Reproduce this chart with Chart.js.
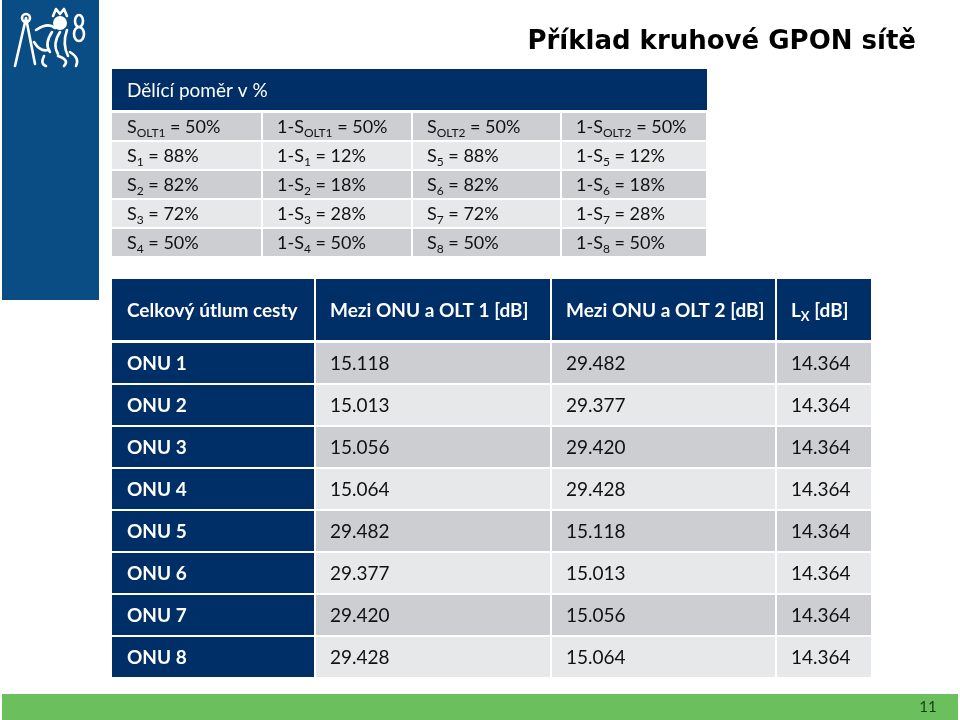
<!DOCTYPE html>
<html>
<head>
<meta charset="utf-8">
<script src="https://cdn.jsdelivr.net/npm/chart.js@4/dist/chart.umd.min.js"></script>
<style>
  html, body { margin: 0; padding: 0; background: #fff; }
  #slide { display: block; }
</style>
</head>
<body>
<canvas id="slide" width="960" height="720"></canvas>
<script>
// --- Data ---
const slideTitle = 'Příklad kruhové GPON sítě';
const splitTitle = 'Dělící poměr v %';
const splitIdxA = ['OLT1', '1', '2', '3', '4'];
const splitValA = [50, 88, 82, 72, 50];
const splitCompA = [50, 12, 18, 28, 50];
const splitIdxB = ['OLT2', '5', '6', '7', '8'];
const splitValB = [50, 88, 82, 72, 50];
const splitCompB = [50, 12, 18, 28, 50];

const lossHeaders = ['Celkový útlum cesty', 'Mezi ONU a OLT 1 [dB]', 'Mezi ONU a OLT 2 [dB]', 'L_{X} [dB]'];
const onuLabels = ['ONU 1', 'ONU 2', 'ONU 3', 'ONU 4', 'ONU 5', 'ONU 6', 'ONU 7', 'ONU 8'];
const lossOlt1 = [15.118, 15.013, 15.056, 15.064, 29.482, 29.377, 29.420, 29.428];
const lossOlt2 = [29.482, 29.377, 29.420, 29.428, 15.118, 15.013, 15.056, 15.064];
const lossLx = [14.364, 14.364, 14.364, 14.364, 14.364, 14.364, 14.364, 14.364];
const pageNo = '11';

// --- Layout / style ---
const NAVY = '#002e66';
const ROW_DARK = '#cdced2';
const ROW_LIGHT = '#e7e8ea';
const FONT = 'Lato, "Open Sans", sans-serif';

const splitCols = [112, 262, 412, 561, 707];
const splitHead = { top: 69, bottom: 110 };
const splitRow = { top: 113, pitch: 29, h: 27 };

const lossCols = [112, 315, 551, 776, 872];
const lossHead = { top: 279, bottom: 340 };
const lossRow = { top: 343, pitch: 42, h: 40 };

// --- Helpers ---
// draws "S_{OLT1} = 50%" style strings with subscripts
function drawRich(ctx, str, x, y, size, bold, color) {
  const parts = str.split(/(_\{[^}]*\})/).filter(p => p.length);
  ctx.fillStyle = color;
  ctx.textAlign = 'left';
  ctx.textBaseline = 'alphabetic';
  let cx = x;
  parts.forEach(p => {
    if (p.startsWith('_{')) {
      const t = p.slice(2, -1);
      ctx.font = `${bold ? 'bold ' : ''}${Math.round(size * 0.68)}px ${FONT}`;
      ctx.fillText(t, cx, y + size * 0.24);
      cx += ctx.measureText(t).width;
    } else {
      ctx.font = `${bold ? 'bold ' : ''}${size}px ${FONT}`;
      ctx.fillText(p, cx, y);
      cx += ctx.measureText(p).width;
    }
  });
}

function drawLogo(ctx, X, Y) {
  ctx.fillStyle = '#0a4c84';
  ctx.fillRect(X(2), Y(0), X(99) - X(2), Y(300) - Y(0));
  ctx.strokeStyle = '#ffffff';
  ctx.fillStyle = '#ffffff';
  ctx.lineWidth = 2.6;
  ctx.lineCap = 'round';
  ctx.lineJoin = 'round';
  // compass
  ctx.beginPath();
  ctx.moveTo(X(26), Y(18)); ctx.lineTo(X(15), Y(66));
  ctx.moveTo(X(26), Y(18)); ctx.lineTo(X(35), Y(64));
  ctx.stroke();
  ctx.beginPath(); ctx.arc(X(26), Y(18), 4, 0, Math.PI * 2); ctx.stroke();
  // lion head and crown
  ctx.beginPath();
  ctx.arc(X(60), Y(23), 7, 0, Math.PI * 2); ctx.fill();
  ctx.beginPath();
  ctx.moveTo(X(53), Y(16)); ctx.lineTo(X(56), Y(9)); ctx.lineTo(X(60), Y(14)); ctx.lineTo(X(64), Y(9)); ctx.lineTo(X(67), Y(16));
  ctx.stroke();
  // body and mane
  ctx.beginPath();
  ctx.moveTo(X(36), Y(30)); ctx.quadraticCurveTo(X(48), Y(22), X(55), Y(28));
  ctx.moveTo(X(52), Y(32)); ctx.quadraticCurveTo(X(44), Y(44), X(50), Y(52));
  ctx.moveTo(X(60), Y(32)); ctx.quadraticCurveTo(X(52), Y(44), X(58), Y(54));
  ctx.moveTo(X(67), Y(30)); ctx.quadraticCurveTo(X(62), Y(44), X(68), Y(56));
  ctx.moveTo(X(34), Y(42)); ctx.quadraticCurveTo(X(40), Y(52), X(48), Y(50));
  ctx.moveTo(X(44), Y(56)); ctx.quadraticCurveTo(X(40), Y(64), X(46), Y(66));
  ctx.moveTo(X(58), Y(56)); ctx.quadraticCurveTo(X(70), Y(60), X(64), Y(66));
  ctx.moveTo(X(70), Y(52)); ctx.quadraticCurveTo(X(80), Y(58), X(76), Y(66));
  ctx.stroke();
  // tail "8"
  ctx.beginPath(); ctx.ellipse(X(79), Y(21), 4, 6, 0, 0, Math.PI * 2); ctx.stroke();
  ctx.beginPath(); ctx.ellipse(X(79), Y(34), 5, 7, 0, 0, Math.PI * 2); ctx.stroke();
}

const slidePlugin = {
  id: 'slide',
  beforeDraw(chart) {
    const ctx = chart.ctx;
    const xs = chart.scales.x, ys = chart.scales.y;
    const X = v => xs.getPixelForValue(v);
    const Y = v => ys.getPixelForValue(v);
    const rect = (x0, y0, x1, y1, c) => {
      ctx.fillStyle = c;
      ctx.fillRect(X(x0), Y(y0), X(x1) - X(x0), Y(y1) - Y(y0));
    };
    ctx.save();
    ctx.fillStyle = '#ffffff';
    ctx.fillRect(0, 0, chart.width, chart.height);

    drawLogo(ctx, X, Y);

    // title
    ctx.fillStyle = '#000000';
    ctx.font = 'bold 26px "DejaVu Sans", Verdana, sans-serif';
    ctx.textAlign = 'right';
    ctx.textBaseline = 'alphabetic';
    ctx.fillText(slideTitle, X(916), Y(49));

    // --- split ratio table ---
    rect(splitCols[0], splitHead.top, splitCols[4], splitHead.bottom, NAVY);
    drawRich(ctx, splitTitle, X(127), Y(97), 19, false, '#ffffff');
    splitIdxA.forEach((idx, i) => {
      const top = splitRow.top + i * splitRow.pitch;
      const bg = i % 2 === 0 ? ROW_DARK : ROW_LIGHT;
      const cells = [
        `S_{${idx}} = ${splitValA[i]}%`,
        `1-S_{${idx}} = ${splitCompA[i]}%`,
        `S_{${splitIdxB[i]}} = ${splitValB[i]}%`,
        `1-S_{${splitIdxB[i]}} = ${splitCompB[i]}%`
      ];
      cells.forEach((txt, c) => {
        const x0 = splitCols[c] + (c ? 1 : 0);
        const x1 = splitCols[c + 1] - 1;
        rect(x0, top, x1, top + splitRow.h, bg);
        drawRich(ctx, txt, X(splitCols[c] + 15), Y(top + splitRow.h / 2 + 6.5), 18, false, '#111111');
      });
    });

    // --- loss table ---
    lossHeaders.forEach((txt, c) => {
      const x0 = lossCols[c] + (c ? 1 : 0);
      const x1 = lossCols[c + 1] - 1;
      rect(x0, lossHead.top, x1, lossHead.bottom, NAVY);
      drawRich(ctx, txt, X(lossCols[c] + 15), Y((lossHead.top + lossHead.bottom) / 2 + 7), 19, true, '#ffffff');
    });
    onuLabels.forEach((lab, i) => {
      const top = lossRow.top + i * lossRow.pitch;
      const bg = i % 2 === 0 ? ROW_DARK : ROW_LIGHT;
      const base = top + lossRow.h / 2 + 7;
      rect(lossCols[0], top, lossCols[1] - 1, top + lossRow.h, NAVY);
      drawRich(ctx, lab, X(lossCols[0] + 15), Y(base), 19, true, '#ffffff');
      [lossOlt1[i], lossOlt2[i], lossLx[i]].forEach((v, k) => {
        const c = k + 1;
        rect(lossCols[c] + 1, top, lossCols[c + 1] - 1, top + lossRow.h, bg);
        drawRich(ctx, v.toFixed(3), X(lossCols[c] + 15), Y(base), 19, false, '#111111');
      });
    });

    // footer bar
    rect(2, 694, 958, 720, '#6cbf5d');
    ctx.fillStyle = '#163d12';
    ctx.font = `15px ${FONT}`;
    ctx.textAlign = 'center';
    ctx.fillText(pageNo, X(928), Y(712));
    ctx.restore();
  }
};

new Chart(document.getElementById('slide'), {
  type: 'scatter',
  data: { datasets: [] },
  options: {
    responsive: false,
    animation: false,
    layout: { padding: 0 },
    plugins: { legend: { display: false }, tooltip: { enabled: false } },
    scales: {
      x: { type: 'linear', min: 0, max: 960, display: false },
      y: { type: 'linear', min: 0, max: 720, reverse: true, display: false }
    }
  },
  plugins: [slidePlugin]
});
</script>
</body>
</html>
